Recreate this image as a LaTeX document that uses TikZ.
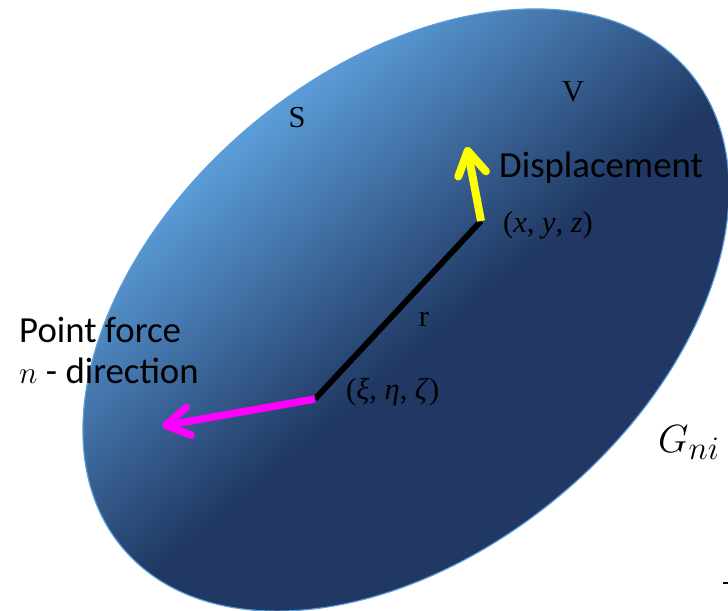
\documentclass[tikz,border=0pt]{standalone}
\usepackage{graphicx}
\usepackage{fontspec}
\setmainfont{Liberation Serif}
\newfontfamily\calib{Carlito}
\usetikzlibrary{arrows.meta}
\definecolor{lightb}{RGB}{91,157,217}
\definecolor{darkb}{RGB}{32,56,99}
\definecolor{yel}{RGB}{255,255,0}
\definecolor{mag}{RGB}{255,0,255}
\pgfdeclarehorizontalshading{ellshade}{100bp}{color(0bp)=(lightb); color(31.8bp)=(lightb); color(53bp)=(darkb); color(100bp)=(darkb)}
\begin{document}
\begin{tikzpicture}[x=0.03cm,y=-0.03cm,
 serif/.style={font=\fontsize{26}{31}\selectfont, inner sep=0, text=black},
 sans/.style={font=\calib\fontsize{31.4}{37}\selectfont, inner sep=0, text=black},
 vec/.style={line width=6.8pt, -{Straight Barb[length=20pt,width=24pt,round]}},
]
\useasboundingbox (0,0) rectangle (728,610);
\coordinate (C) at (406,310);
\begin{scope}
\clip[rotate around={40:(C)}] (C) ellipse [x radius=370, y radius=241];
\shade[shading=ellshade, shading angle=-50] (76,-20) rectangle (736,640);
\end{scope}
\draw[lightb, line width=1pt, rotate around={40:(C)}] (C) ellipse [x radius=370, y radius=241];

\coordinate (P) at (315,399);
\coordinate (Q) at (481,221);
\coordinate (Ytip) at (467,147);
\coordinate (Mtip) at (162,426);
\draw[line width=5pt] (P) -- (Q);
\draw[vec, yel] (Q) -- (Ytip);
\draw[vec, mag, line width=6.3pt] (P) -- (Mtip);

\node[serif] (S) at (297,118) {S};
\node[serif] (V) at (573,92) {V};
\node[serif] (r) at (424,319) {r};
\node[serif, anchor=base west] (xyz) at (503,232) {(\textit{x}, \textit{y}, \textit{z})};
\node[serif, anchor=base west] (xez) at (346,399) {(\textit{ξ}, \textit{η}, \textit{ζ})};
\node[sans, anchor=base west] (disp) at (499,177) {Displacement};
\node[sans, anchor=base west] (pf) at (19,342) {Point force};
\node[sans, anchor=base west] (nd) at (19,383) {\scalebox{1.08}{\fontsize{24.88}{30}\selectfont$n$} - direction};
\node[anchor=base west, inner sep=0, font=\fontsize{24.88}{30}\selectfont] (G) at (658,452) {\scalebox{1.35}{$G_{ni}$}};
\coordinate (m1) at (723,583);
\coordinate (m2) at (728,583);
\draw[line width=1.3pt] (m1) -- (m2);
\end{tikzpicture}
\end{document}
